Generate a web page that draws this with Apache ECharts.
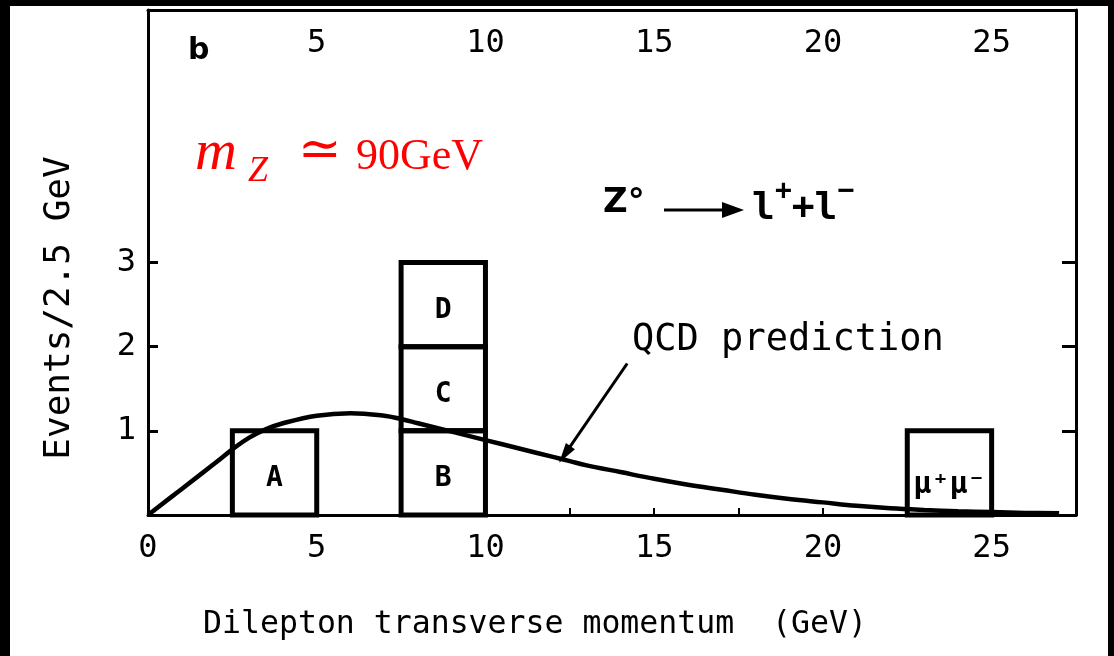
<!DOCTYPE html>
<html>
<head>
<meta charset="utf-8">
<script src="https://cdn.jsdelivr.net/npm/echarts@6/dist/echarts.min.js"></script>
<style>
  html, body { margin: 0; padding: 0; background: #000; }
  #wrap { position: relative; width: 1114px; height: 656px; background: #000; overflow: hidden; }
  #paper { position: absolute; left: 10px; top: 6px; width: 1098px; height: 650px; background: #fff; }
  #chart { position: absolute; left: 0; top: 0; width: 1114px; height: 656px; }
</style>
</head>
<body>
<div id="wrap">
  <div id="paper"></div>
  <div id="chart"></div>
</div>
<script>
// Dilepton transverse momentum of Z0 -> l+ l- candidates, 2.5 GeV bins
const binEdgesLow  = [2.5, 7.5, 7.5, 7.5, 22.5];
const binEdgesHigh = [5, 10, 10, 10, 25];
const binBase      = [0, 0, 1, 2, 0];
const binTop       = [1, 1, 2, 3, 1];
const eventNames   = ['A', 'B', 'C', 'D', 'μ⁺μ⁻'];

// QCD prediction curve (events / 2.5 GeV)
const qcdPt    = [0, 1, 2, 2.5, 3, 3.5, 4, 5, 6, 7, 7.5, 8, 9, 10, 11, 12, 12.5, 13, 14, 15, 16, 17, 18, 19, 20, 21, 22, 23, 24, 25, 26, 27];
const qcdValue = [0, 0.31, 0.62, 0.78, 0.92, 1.02, 1.09, 1.18, 1.21, 1.18, 1.14, 1.09, 0.99, 0.89, 0.79, 0.69, 0.64, 0.59, 0.51, 0.43, 0.36, 0.30, 0.24, 0.19, 0.15, 0.11, 0.08, 0.06, 0.045, 0.035, 0.025, 0.02];

const xTickLabels = [0, 5, 10, 15, 20, 25];
const yTickLabels = [1, 2, 3];

// arrow from the "QCD prediction" text down to the curve
const arrowFrom = [14.2, 1.8];
const arrowTo   = [12.35, 0.72];

const plotFont = '"DejaVu Sans Mono", monospace';
const mathFont = '"Liberation Serif", "DejaVu Serif", serif';

const boxes = binEdgesLow.map((x0, i) => [x0, binEdgesHigh[i], binBase[i], binTop[i], eventNames[i]]);

const chart = echarts.init(document.getElementById('chart'), null, { renderer: 'canvas' });

const frameLine = { show: true, onZero: false, lineStyle: { color: '#000', width: 3 } };

const option = {
  backgroundColor: 'transparent',
  animation: false,
  grid: { left: 148, right: 38, top: 10, bottom: 141, containLabel: false },
  xAxis: [
    {
      type: 'value', position: 'bottom', min: 0, max: 27.5, interval: 2.5,
      axisLine: frameLine,
      axisTick: { show: true, inside: true, length: 7, lineStyle: { color: '#000', width: 2 } },
      axisLabel: {
        show: true, margin: 18, color: '#000', fontFamily: plotFont, fontSize: 32,
        customValues: xTickLabels
      },
      splitLine: { show: false }
    },
    {
      type: 'value', position: 'top', min: 0, max: 27.5, interval: 5,
      axisLine: frameLine,
      axisTick: { show: false },
      axisLabel: {
        show: true, inside: true, margin: 18, color: '#000', fontFamily: plotFont, fontSize: 32,
        customValues: xTickLabels.filter(v => v > 0)
      },
      splitLine: { show: false }
    }
  ],
  yAxis: [
    {
      type: 'value', position: 'left', min: 0, max: 6, interval: 1,
      axisLine: frameLine,
      axisTick: { show: true, inside: true, length: 10, customValues: yTickLabels, lineStyle: { color: '#000', width: 3 } },
      axisLabel: { show: true, margin: 12, color: '#000', fontFamily: plotFont, fontSize: 32, customValues: yTickLabels },
      splitLine: { show: false }
    },
    {
      type: 'value', position: 'right', min: 0, max: 6, interval: 1,
      axisLine: frameLine,
      axisTick: { show: true, inside: true, length: 14, customValues: yTickLabels, lineStyle: { color: '#000', width: 3 } },
      axisLabel: { show: false },
      splitLine: { show: false }
    }
  ],
  series: [
    {
      name: 'events',
      type: 'custom',
      xAxisIndex: 0, yAxisIndex: 0,
      data: boxes,
      z: 3,
      renderItem: function (params, api) {
        const p0 = api.coord([api.value(0), api.value(3)]);
        const p1 = api.coord([api.value(1), api.value(2)]);
        const name = boxes[params.dataIndex][4];
        return {
          type: 'group',
          children: [
            {
              type: 'rect',
              shape: { x: p0[0], y: p0[1], width: p1[0] - p0[0], height: p1[1] - p0[1] },
              style: { fill: 'none', stroke: '#000', lineWidth: 5 }
            },
            {
              type: 'text',
              x: (p0[0] + p1[0]) / 2,
              y: (p0[1] + p1[1]) / 2 + (name.length > 1 ? 12 : 6),
              style: {
                text: name, fill: '#000', align: 'center', verticalAlign: 'middle',
                fontFamily: plotFont, fontSize: name.length > 1 ? 30 : 28, fontWeight: 'bold'
              }
            }
          ]
        };
      }
    },
    {
      name: 'QCD prediction',
      type: 'line',
      xAxisIndex: 0, yAxisIndex: 0,
      data: qcdPt.map((x, i) => [x, qcdValue[i]]),
      smooth: 0.4,
      showSymbol: false,
      z: 4,
      lineStyle: { color: '#000', width: 4.5 },
      markLine: {
        silent: true,
        symbol: ['none', 'triangle'],
        symbolSize: [11, 20],
        label: { show: false },
        lineStyle: { color: '#000', width: 3, type: 'solid' },
        data: [[{ coord: arrowFrom }, { coord: arrowTo }]]
      }
    }
  ],
  graphic: [
    {
      type: 'text', left: 188, top: 36,
      style: { text: 'b', fill: '#000', fontFamily: '"DejaVu Sans", sans-serif', fontSize: 30, fontWeight: 'bold' }
    },
    {
      type: 'text', x: 195, y: 154,
      style: { text: 'm', fill: '#ff0000', fontFamily: mathFont, fontStyle: 'italic', fontSize: 58, verticalAlign: 'middle' }
    },
    {
      type: 'text', x: 248, y: 172,
      style: { text: 'Z', fill: '#ff0000', fontFamily: mathFont, fontStyle: 'italic', fontSize: 36, verticalAlign: 'middle' }
    },
    {
      type: 'text', x: 298, y: 152,
      style: { text: '≃', fill: '#ff0000', fontFamily: '"DejaVu Serif", serif', fontSize: 52, verticalAlign: 'middle' }
    },
    {
      type: 'text', x: 356, y: 157,
      style: { text: '90GeV', fill: '#ff0000', fontFamily: mathFont, fontSize: 44, verticalAlign: 'middle' }
    },
    {
      type: 'text', left: 603, top: 186,
      style: { text: 'Z°', fill: '#000', fontFamily: '"DejaVu Sans", sans-serif', fontSize: 34, fontWeight: 'bold' }
    },
    {
      type: 'line', shape: { x1: 664, y1: 210, x2: 725, y2: 210 },
      style: { stroke: '#000', lineWidth: 3 }
    },
    {
      type: 'polygon', shape: { points: [[722, 202], [744, 210], [722, 218]] },
      style: { fill: '#000' }
    },
    {
      type: 'text', left: 752, top: 178,
      style: {
        text: '{b|l}{s|+}{b|+l}{s|−}',
        rich: {
          b: { fontFamily: plotFont, fontSize: 38, fontWeight: 'bold', fill: '#000', verticalAlign: 'bottom', lineHeight: 50 },
          s: { fontFamily: plotFont, fontSize: 28, fontWeight: 'bold', fill: '#000', verticalAlign: 'top', lineHeight: 50 }
        }
      }
    },
    {
      type: 'text', left: 632, top: 322,
      style: { text: 'QCD prediction', fill: '#000', fontFamily: plotFont, fontSize: 37 }
    },
    {
      type: 'text', x: 60, y: 308, rotation: Math.PI / 2,
      style: { text: 'Events/2.5 GeV', fill: '#000', fontFamily: plotFont, fontSize: 36, align: 'center', verticalAlign: 'middle' }
    },
    {
      type: 'text', x: 535, y: 625,
      style: { text: 'Dilepton transverse momentum  (GeV)', fill: '#000', fontFamily: plotFont, fontSize: 31.5, align: 'center', verticalAlign: 'middle' }
    }
  ]
};

chart.setOption(option);
</script>
</body>
</html>
